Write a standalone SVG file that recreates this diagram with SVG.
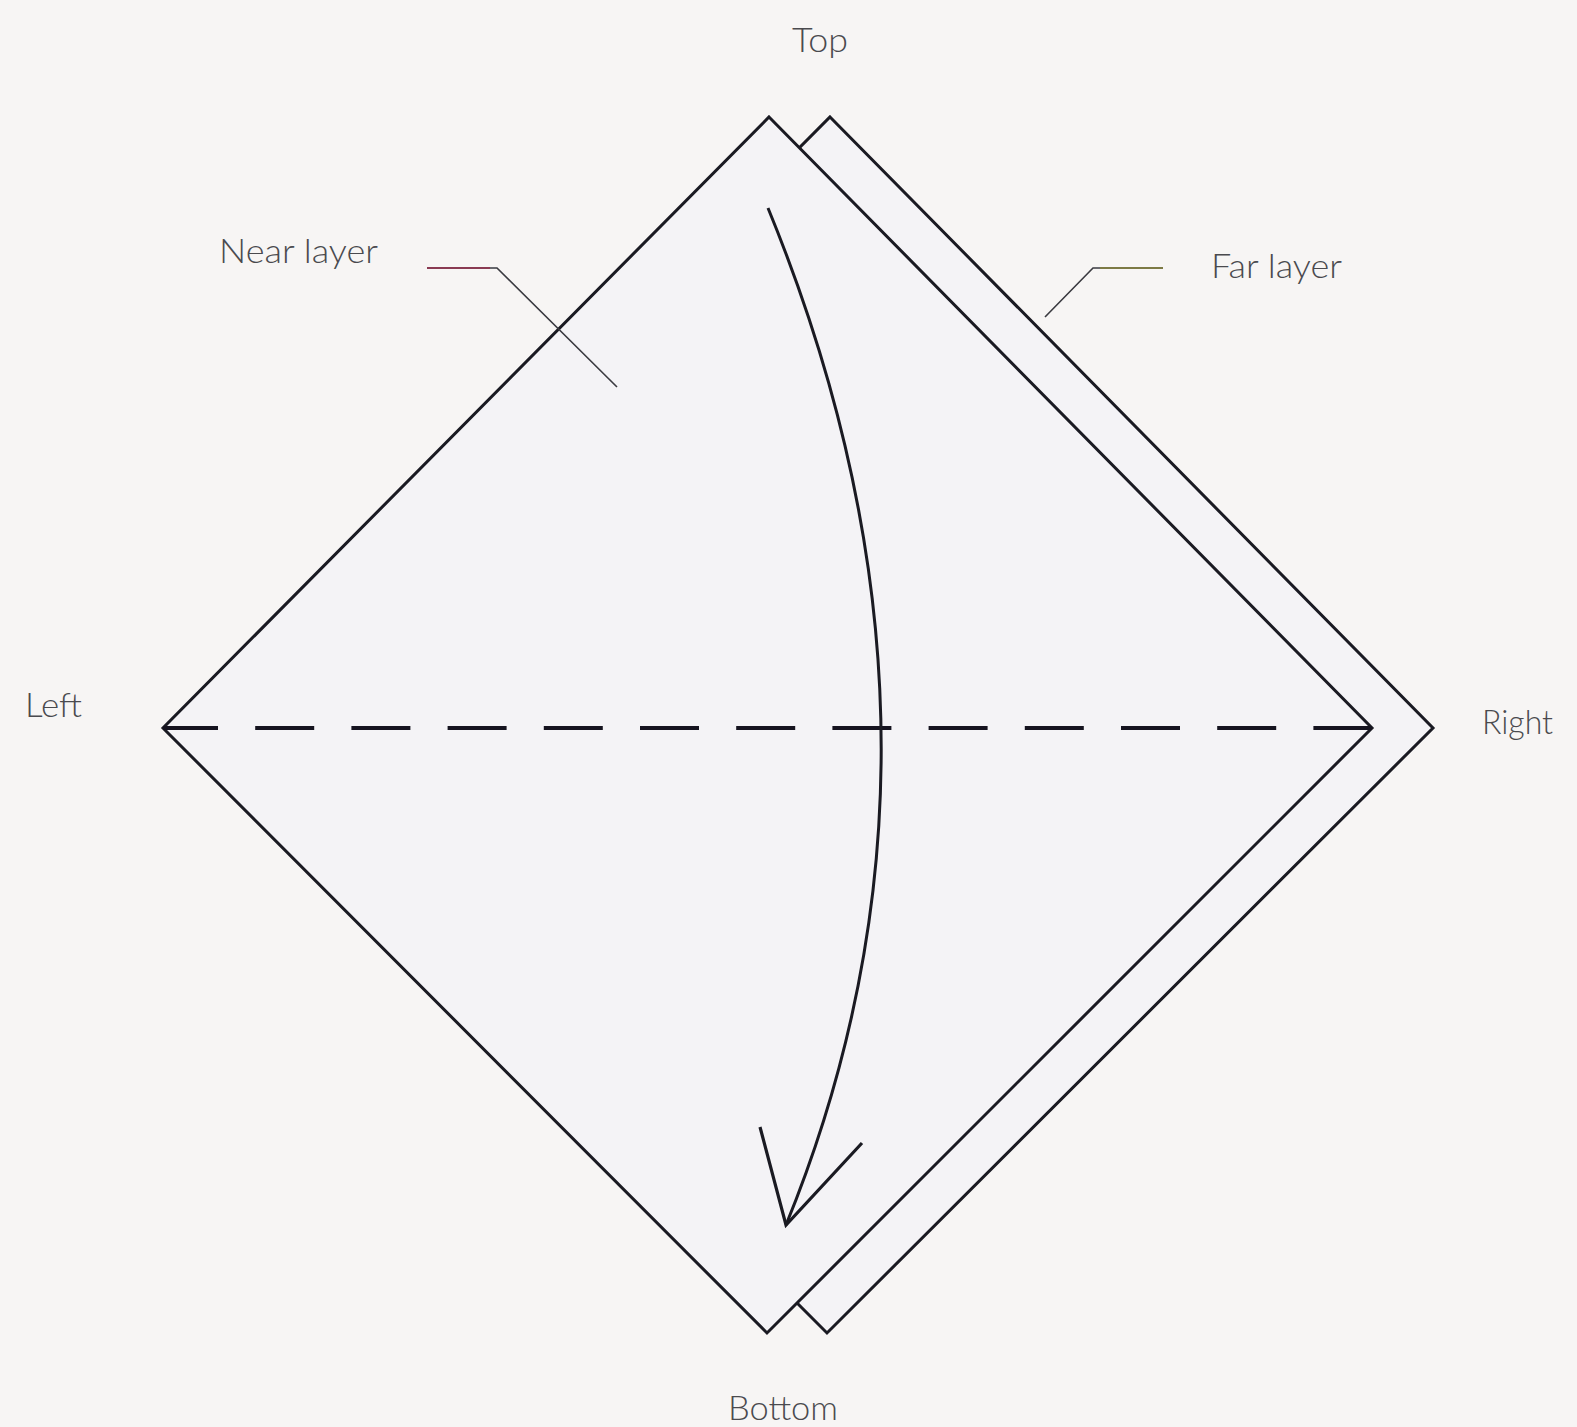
<svg xmlns="http://www.w3.org/2000/svg" width="1577" height="1427" viewBox="0 0 1577 1427">
<style>
.lbl{font-family:Lato,"Open Sans","Liberation Sans",sans-serif;font-weight:300;font-size:34px;fill:#4a4a4e}
.edge{fill:#f4f3f6;stroke:#1a1a22;stroke-width:3;stroke-linejoin:miter}
.lead{fill:none;stroke:#3a3a40;stroke-width:1.6}
</style>
<rect x="0" y="0" width="1577" height="1427" fill="#f7f5f4"/>
<g id="far-layer">
<polygon class="edge" points="830,117 1433,728 827,1333 223,728"/>
</g>
<g id="near-layer">
<polygon class="edge" points="769,117 1372,728 767,1333 163,728"/>
</g>
<g id="connectors">
<line id="fold-line" x1="163" y1="728" x2="1372" y2="728" stroke="#15131f" stroke-width="3.8" stroke-dasharray="59 37.2" stroke-dashoffset="4"/>
<path id="fold-arrow" d="M768,208 Q985,737 786,1225" fill="none" stroke="#1a1a22" stroke-width="3"/>
<polyline points="760,1127 786,1225 862,1143" fill="none" stroke="#1a1a22" stroke-width="3.2" stroke-linejoin="miter"/>
<polyline class="lead" points="427,268 497,268 617,387"/>
<line x1="427" y1="268" x2="490" y2="268" stroke="#8a3a52" stroke-width="1.8"/>
<polyline class="lead" points="1163,268 1093,268 1045,317"/>
<line x1="1100" y1="268" x2="1163" y2="268" stroke="#7d7a45" stroke-width="1.8"/>
</g>
<g id="labels">
<text class="lbl" x="792" y="52" textLength="56" lengthAdjust="spacingAndGlyphs">Top</text>
<text class="lbl" x="219" y="263" textLength="159" lengthAdjust="spacingAndGlyphs">Near layer</text>
<text class="lbl" x="1211" y="278" textLength="131" lengthAdjust="spacingAndGlyphs">Far layer</text>
<text class="lbl" x="25" y="717" textLength="57" lengthAdjust="spacingAndGlyphs">Left</text>
<text class="lbl" x="1482" y="734" textLength="71" lengthAdjust="spacingAndGlyphs">Right</text>
<text class="lbl" x="728" y="1420" textLength="110" lengthAdjust="spacingAndGlyphs">Bottom</text>
</g>
</svg>
